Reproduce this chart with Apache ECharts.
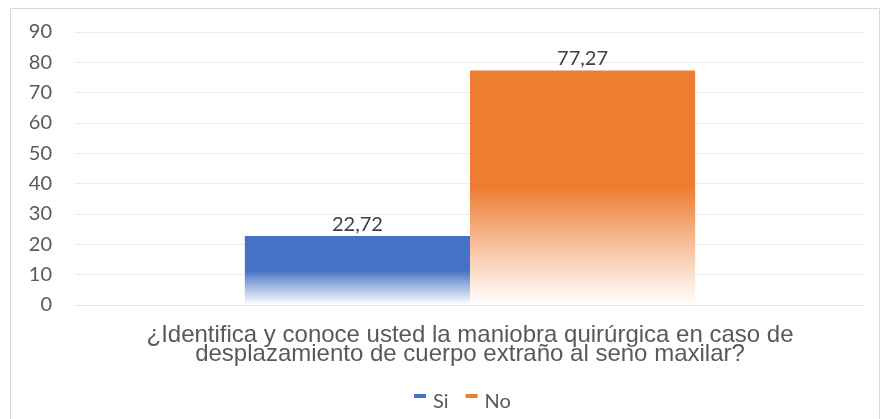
<!DOCTYPE html>
<html>
<head>
<meta charset="utf-8">
<script src="https://cdn.jsdelivr.net/npm/echarts@6/dist/echarts.min.js"></script>
<style>
  html, body { margin: 0; padding: 0; background: #fff; }
  #chart { width: 883px; height: 419px; }
</style>
</head>
<body>
<div id="chart"></div>
<script>
// datos
const categorias = ['¿Identifica y conoce usted la maniobra quirúrgica en caso de\ndesplazamiento de cuerpo extraño al seno maxilar?'];
const serieNombres = ['Si', 'No'];
const valoresSi = [22.72];
const valoresNo = [77.27];
const colores = ['#4472C4', '#ED7D31'];

function degradado(c) {
  return new echarts.graphic.LinearGradient(0, 0, 0, 1, [
    { offset: 0, color: c },
    { offset: 0.5, color: c },
    { offset: 1, color: 'rgba(255,255,255,0.9)' }
  ]);
}

const etiqueta = {
  show: true, position: 'top', distance: 2,
  formatter: p => String(p.value).replace('.', ','),
  fontFamily: 'Lato', fontSize: 20, color: '#404040'
};

const chart = echarts.init(document.getElementById('chart'));
chart.setOption({
  animation: false,
  graphic: [{
    type: 'rect',
    shape: { x: 10.5, y: 8.5, width: 869, height: 420 },
    style: { fill: 'none', stroke: '#d9d9d9', lineWidth: 1 },
    silent: true
  }],
  grid: { left: 75, right: 18, top: 32, bottom: 114 },
  legend: {
    data: serieNombres.map((n, i) => ({ name: n, itemStyle: { color: colores[i] } })),
    bottom: 2,
    left: 409,
    itemWidth: 12,
    itemHeight: 16,
    itemGap: 17,
    // marcador pequeño en la parte alta, como en Excel
    icon: 'path://M0,0L12,0L12,4L0,4Z M0,16L0.01,16',
    textStyle: { fontFamily: 'Lato', fontSize: 20, color: '#595959', padding: [0, 0, 0, 2] }
  },
  xAxis: {
    type: 'category',
    data: categorias,
    axisLine: { show: true, lineStyle: { color: '#e6e6e6' } },
    axisTick: { show: false },
    axisLabel: {
      fontFamily: 'Liberation Sans',
      fontSize: 24,
      lineHeight: 19,
      color: '#595959',
      margin: 21
    }
  },
  yAxis: {
    type: 'value',
    min: 0,
    max: 90,
    interval: 10,
    axisLine: { show: false },
    axisTick: { show: false },
    splitLine: { lineStyle: { color: '#ececec' } },
    axisLabel: { fontFamily: 'Lato', fontSize: 20, color: '#595959', margin: 23 }
  },
  series: [
    {
      name: serieNombres[0],
      type: 'bar',
      data: valoresSi,
      barGap: '0%',
      barCategoryGap: '43%',
      itemStyle: { color: degradado(colores[0]) },
      label: etiqueta
    },
    {
      name: serieNombres[1],
      type: 'bar',
      data: valoresNo,
      barGap: '0%',
      barCategoryGap: '43%',
      itemStyle: { color: degradado(colores[1]) },
      label: etiqueta
    }
  ]
});
</script>
</body>
</html>
